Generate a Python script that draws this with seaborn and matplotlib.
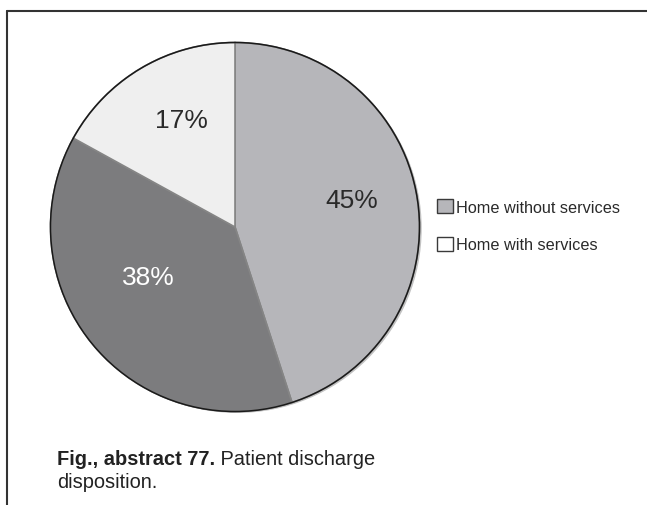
import numpy as np
import matplotlib
matplotlib.use("Agg")
import matplotlib.pyplot as plt
import seaborn as sns
from matplotlib.patches import Patch, Circle
from matplotlib.lines import Line2D

# ---- data ----
categories = ["Home without services", "Other", "Home with services"]
values = [45, 38, 17]
legend_labels = ["Home without services", "Home with services"]
caption_bold = "Fig., abstract 77."
caption_rest = " Patient discharge"
caption_line2 = "disposition."

# ---- style ----
colors = ["#b6b6ba", "#7c7c7e", "#efefef"]
label_colors = ["#2a2a2a", "#ffffff", "#2a2a2a"]
label_dist = [0.65, 0.54, 0.647]
label_turn = [-4.0, 9.5, 4.2]   # clockwise nudge of label angle (deg)

sns.set_theme(style="white")
plt.rcParams["font.family"] = ["Liberation Sans", "DejaVu Sans"]

W, H = 647, 506
fig = plt.figure(figsize=(W / 100, H / 100), dpi=100)
cx, cy, r = 235, 228, 184.5
lim = 1.03
ax = fig.add_axes([(cx - r * lim) / W, 1 - (cy + r * lim) / H,
                   2 * r * lim / W, 2 * r * lim / H])

# soft shadow
ax.add_patch(Circle((0.012, -0.008), 1.0, facecolor="#9a9a9a", edgecolor="none",
                    alpha=0.6, zorder=0))
wedges, _ = ax.pie(values, colors=colors, startangle=90, counterclock=False,
                   radius=1.0,
                   wedgeprops=dict(edgecolor="#858585", linewidth=1.2))
ax.add_patch(Circle((0, 0), 1.0, fill=False, edgecolor="#1a1a1a", linewidth=1.1,
                    zorder=5))
ax.set_xlim(-lim, lim)
ax.set_ylim(-lim, lim)
ax.set_aspect("equal")
ax.axis("off")

for w, v, c, d, t in zip(wedges, values, label_colors, label_dist, label_turn):
    ang = np.deg2rad((w.theta1 + w.theta2) / 2 - t)
    ax.text(d * np.cos(ang), d * np.sin(ang), f"{v}%", ha="center", va="center",
            fontsize=19, color=c, zorder=6)

handles = [Patch(facecolor=colors[0], edgecolor="#3a3a3a", linewidth=1.0),
           Patch(facecolor="#ffffff", edgecolor="#3a3a3a", linewidth=1.0)]
fig.legend(handles, legend_labels, loc="upper left",
           bbox_to_anchor=(437 / W, 1 - 200 / H),
           frameon=False, fontsize=11.7, handlelength=1.0, handleheight=0.95,
           handletextpad=0.2, labelspacing=1.35, borderaxespad=0, borderpad=0,
           labelcolor="#2a2a2a")

# frame lines
fig.add_artist(Line2D([7 / W, 1.0], [1 - 11.5 / H, 1 - 11.5 / H],
                      transform=fig.transFigure, color="#333333", linewidth=1.5))
fig.add_artist(Line2D([7 / W, 7 / W], [1 - 11.5 / H, 0.0],
                      transform=fig.transFigure, color="#333333", linewidth=1.5))

# caption
cap_family = ["Liberation Sans", "DejaVu Sans"]
fs = 14.4
t1 = fig.text(57 / W, 1 - 465 / H, caption_bold, fontsize=fs, fontweight="bold",
              color="#222222", family=cap_family, va="baseline", ha="left")
fig.canvas.draw()
bb = t1.get_window_extent()
fig.text(bb.x1 / fig.bbox.width, 1 - 465 / H, caption_rest, fontsize=fs,
         color="#222222", family=cap_family, va="baseline", ha="left")
fig.text(57 / W, 1 - 488 / H, caption_line2, fontsize=fs,
         color="#222222", family=cap_family, va="baseline", ha="left")

fig.savefig("out.png", dpi=100)
